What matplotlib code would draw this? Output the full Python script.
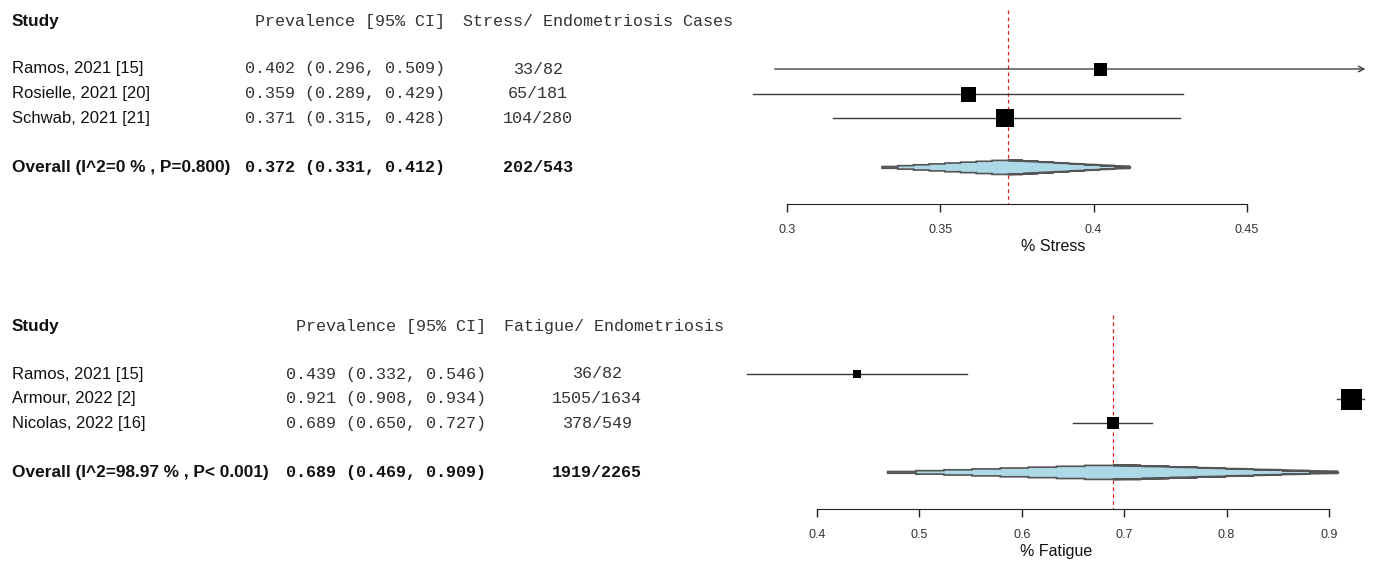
import matplotlib
matplotlib.use("Agg")
import matplotlib.pyplot as plt
from matplotlib import transforms
from matplotlib.patches import Polygon

W, H, DPI = 1373, 561, 100

# stress panel
stress_studies = ["Ramos, 2021 [15]", "Rosielle, 2021 [20]", "Schwab, 2021 [21]"]
stress_est = [0.402, 0.359, 0.371]
stress_lo = [0.296, 0.289, 0.315]
stress_hi = [0.509, 0.429, 0.428]
stress_cases = ["33/82", "65/181", "104/280"]
stress_overall = [0.372, 0.331, 0.412]
stress_overall_label = "Overall (I^2=0 % , P=0.800)"
stress_overall_cases = "202/543"
stress_ticks = [0.3, 0.35, 0.4, 0.45]
stress_ticklabels = ["0.3", "0.35", "0.4", "0.45"]

# fatigue panel
fatigue_studies = ["Ramos, 2021 [15]", "Armour, 2022 [2]", "Nicolas, 2022 [16]"]
fatigue_est = [0.439, 0.921, 0.689]
fatigue_lo = [0.332, 0.908, 0.650]
fatigue_hi = [0.546, 0.934, 0.727]
fatigue_cases = ["36/82", "1505/1634", "378/549"]
fatigue_overall = [0.689, 0.469, 0.909]
fatigue_overall_label = "Overall (I^2=98.97 % , P< 0.001)"
fatigue_overall_cases = "1919/2265"
fatigue_ticks = [0.4, 0.5, 0.6, 0.7, 0.8, 0.9]
fatigue_ticklabels = ["0.4", "0.5", "0.6", "0.7", "0.8", "0.9"]

SANS = "Liberation Sans"
MONO = "Liberation Mono"
ROW = 24.6  # pixels per row


def px(v):
    return v / W


def step_diamond(ax, est, lo, hi, y, h, n=8):
    # staircase outline of the summary diamond
    top = []
    for k in range(n):
        x0 = lo + (est - lo) * k / n
        x1 = lo + (est - lo) * (k + 1) / n
        hh = h * (k + 1) / n
        top += [(x0, y - hh), (x1, y - hh)]
    right = []
    for k in range(n):
        x0 = hi - (hi - est) * k / n
        x1 = hi - (hi - est) * (k + 1) / n
        hh = h * (k + 1) / n
        right += [(x1, y - hh), (x0, y - hh)]
    upper = top + right[::-1]
    lower = [(x, 2 * y - yy) for x, yy in upper[::-1]]
    ax.plot([lo, hi], [y, y], color="#222222", lw=1, zorder=2)
    ax.add_patch(Polygon(upper + lower, closed=True, facecolor="#add8e6",
                         edgecolor="#555555", lw=1.2, zorder=3))


def panel(fig, top_px, xlim, studies, est, lo, hi, cases, overall,
          overall_label, overall_cases, ticks, ticklabels, xlabel,
          cases_header, ci_right, cases_x, box_px):
    # rows: studies at 0,1,2, overall at 4, axis at 5.5, header at -2
    bottom_px = top_px + 256
    y0 = 69 if top_px == 0 else 374
    ax = fig.add_axes([px(740), 1 - bottom_px / H, px(xlim[2] - 740), 256 / H])
    ax.set_xlim(xlim[0], xlim[1])
    ax.set_ylim((bottom_px - y0) / ROW, (top_px - y0) / ROW)
    ax.patch.set_visible(False)
    for s in ["top", "left", "right"]:
        ax.spines[s].set_visible(False)
    ax.spines["bottom"].set_position(("data", 5.5))
    ax.spines["bottom"].set_bounds(ticks[0], ticks[-1])
    ax.spines["bottom"].set_color("#222222")
    ax.set_yticks([])
    ax.set_xticks(ticks)
    ax.set_xticklabels(ticklabels, fontsize=9, family=SANS, color="#333333")
    ax.tick_params(axis="x", length=6, width=1, color="#222222", pad=8)
    ax.set_xlabel(xlabel, fontsize=11.5, family=SANS, color="#111111", labelpad=2)

    ax.vlines(overall[0], -2.4, 5.5, colors="#e8211c", linestyles=(0, (3, 2.5)),
              lw=0.9, zorder=1)

    xmax = ax.get_xlim()[1]
    for i in range(len(est)):
        if hi[i] > xmax:
            ax.annotate("", xy=(xmax - 0.0005, i), xytext=(lo[i], i),
                        arrowprops=dict(arrowstyle="->", color="#444444", lw=1,
                                        shrinkA=0, shrinkB=0, mutation_scale=10))
        else:
            ax.plot([lo[i], hi[i]], [i, i], color="#3a3a3a", lw=1, zorder=2)
        ax.plot(est[i], i, marker="s", color="black", ms=box_px[i] * 0.72,
                mew=0, zorder=4)

    step_diamond(ax, overall[0], overall[1], overall[2], 4, 7 / ROW)

    tr = transforms.blended_transform_factory(fig.transFigure, ax.transData)
    ax.text(px(12), -1.95, "Study", transform=tr, ha="left", va="center",
            family=SANS, fontsize=12.3, fontweight="bold", color="#111111")
    ax.text(px(ci_right), -1.95, "Prevalence [95% CI]", transform=tr, ha="right",
            va="center", family=MONO, fontsize=12.1, color="#333333")
    ax.text(px(ci_right + 18), -1.95, cases_header, transform=tr, ha="left",
            va="center", family=MONO, fontsize=12.1, color="#333333")
    for i in range(len(est)):
        ax.text(px(12), i, studies[i], transform=tr, ha="left", va="center",
                family=SANS, fontsize=12, color="#111111")
        ax.text(px(ci_right), i, f"{est[i]:.3f} ({lo[i]:.3f}, {hi[i]:.3f})",
                transform=tr, ha="right", va="center", family=MONO,
                fontsize=12.1, color="#333333")
        ax.text(px(cases_x), i, cases[i], transform=tr, ha="center",
                va="center", family=MONO, fontsize=12.1, color="#333333")
    ax.text(px(12), 4, overall_label, transform=tr, ha="left", va="center",
            family=SANS, fontsize=12.4, fontweight="bold", color="#111111")
    ax.text(px(ci_right), 4,
            f"{overall[0]:.3f} ({overall[1]:.3f}, {overall[2]:.3f})",
            transform=tr, ha="right", va="center", family=MONO, fontsize=12.1,
            fontweight="bold", color="#111111")
    ax.text(px(cases_x), 4, overall_cases, transform=tr, ha="center",
            va="center", family=MONO, fontsize=12.1, fontweight="bold",
            color="#111111")
    return ax


fig = plt.figure(figsize=(W / DPI, H / DPI), dpi=DPI)

# x pixel mapping: stress 0.3 -> 787, 0.45 -> 1247 ; fatigue 0.4 -> 817, 0.9 -> 1329
s_scale = (1247 - 787) / 0.15
f_scale = (1329 - 817) / 0.5
panel(fig, 0, (0.3 - 47 / s_scale, 0.3 + 580 / s_scale, 1367),
      stress_studies, stress_est, stress_lo, stress_hi, stress_cases,
      stress_overall, stress_overall_label, stress_overall_cases,
      stress_ticks, stress_ticklabels, "% Stress",
      "Stress/ Endometriosis Cases", 445, 538, [13, 15, 18])
panel(fig, 305, (0.4 - 77 / f_scale, 0.4 + 556 / f_scale, 1373),
      fatigue_studies, fatigue_est, fatigue_lo, fatigue_hi, fatigue_cases,
      fatigue_overall, fatigue_overall_label, fatigue_overall_cases,
      fatigue_ticks, fatigue_ticklabels, "% Fatigue",
      "Fatigue/ Endometriosis", 486, 597, [8, 21, 12])

fig.savefig("out.png", dpi=DPI)
